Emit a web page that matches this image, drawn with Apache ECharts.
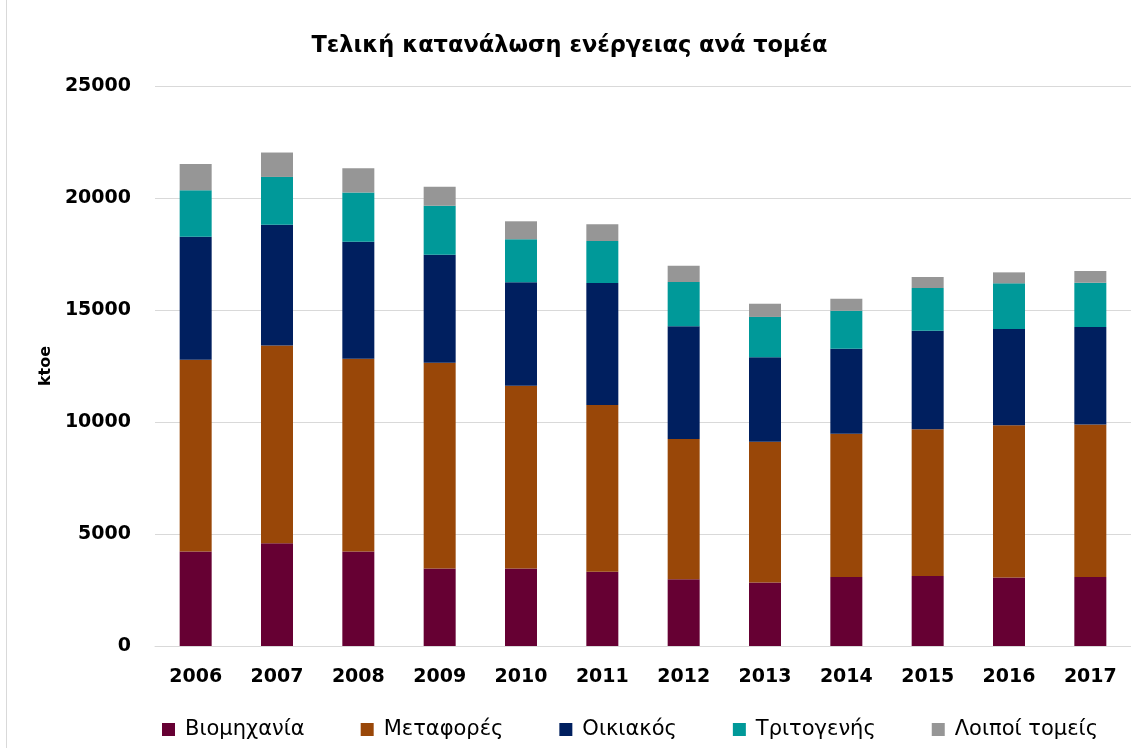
<!DOCTYPE html>
<html>
<head>
<meta charset="utf-8">
<script src="https://cdn.jsdelivr.net/npm/echarts@6/dist/echarts.min.js"></script>
<style>
  html, body { margin: 0; padding: 0; background: #fff; }
  #chart { position: absolute; left: 6px; top: 0; width: 1125px; height: 748px; border-left: 1px solid #d9d9d9; }
</style>
</head>
<body>
<div id="chart"></div>
<script>
  // κατηγορίες (έτη)
  const years = ['2006', '2007', '2008', '2009', '2010', '2011', '2012', '2013', '2014', '2015', '2016', '2017'];
  // τιμές ανά τομέα, ktoe
  const industry    = [4220, 4590, 4220, 3460, 3460, 3320, 2980, 2830, 3080, 3130, 3060, 3080];
  const transport   = [8560, 8830, 8600, 9180, 8160, 7440, 6260, 6290, 6390, 6550, 6790, 6810];
  const residential = [5490, 5390, 5230, 4830, 4620, 5450, 5030, 3770, 3800, 4390, 4300, 4350];
  const tertiary    = [2080, 2130, 2190, 2180, 1920, 1870, 1980, 1800, 1700, 1910, 2040, 1980];
  const others      = [1170, 1090, 1090, 850, 800, 750, 720, 590, 530, 490, 490, 520];

  const names = ['Βιομηχανία', 'Μεταφορές', 'Οικιακός', 'Τριτογενής', 'Λοιποί τομείς'];
  const colors = ['#660033', '#994708', '#001f5f', '#009999', '#969696'];
  const values = [industry, transport, residential, tertiary, others];

  const font = 'DejaVu Sans';
  let chart = echarts.init(document.getElementById('chart'));

  chart.setOption({
    animation: false,
    color: colors,
    title: {
      text: 'Τελική κατανάλωση ενέργειας ανά τομέα',
      left: 'center',
      top: 30,
      textStyle: { fontFamily: font, fontSize: 22.5, fontWeight: 'bold', color: '#000' }
    },
    legend: {
      bottom: 3,
      left: 150,
      itemWidth: 13,
      itemHeight: 13,
      itemGap: 56,
      icon: 'rect',
      textStyle: { fontFamily: font, fontSize: 21, color: '#000', padding: [0, 0, 0, 5] },
      data: names
    },
    grid: {
      left: 148,
      right: 1,
      top: 86,
      bottom: 102
    },
    xAxis: {
      type: 'category',
      data: years,
      axisTick: { show: false },
      axisLine: { lineStyle: { color: '#d9d9d9', width: 1 } },
      axisLabel: { fontFamily: font, fontSize: 19, fontWeight: 'bold', color: '#000', margin: 22 }
    },
    yAxis: {
      type: 'value',
      min: 0,
      max: 25000,
      interval: 5000,
      name: 'ktoe',
      nameLocation: 'middle',
      nameGap: 95,
      nameTextStyle: { fontFamily: font, fontSize: 16, fontWeight: 'bold', color: '#000', padding: [0, 0, 0, 0] },
      axisLine: { show: false },
      axisTick: { show: false },
      splitLine: { lineStyle: { color: '#d9d9d9', width: 1 } },
      axisLabel: {
        fontFamily: font, fontSize: 19, fontWeight: 'bold', color: '#000', margin: 24,
        formatter: function (v) { return String(v); }
      }
    },
    series: names.map(function (n, i) {
      return {
        name: n,
        type: 'bar',
        stack: 'total',
        barWidth: 32,
        data: values[i],
        itemStyle: { color: colors[i] }
      };
    })
  });
</script>
</body>
</html>
